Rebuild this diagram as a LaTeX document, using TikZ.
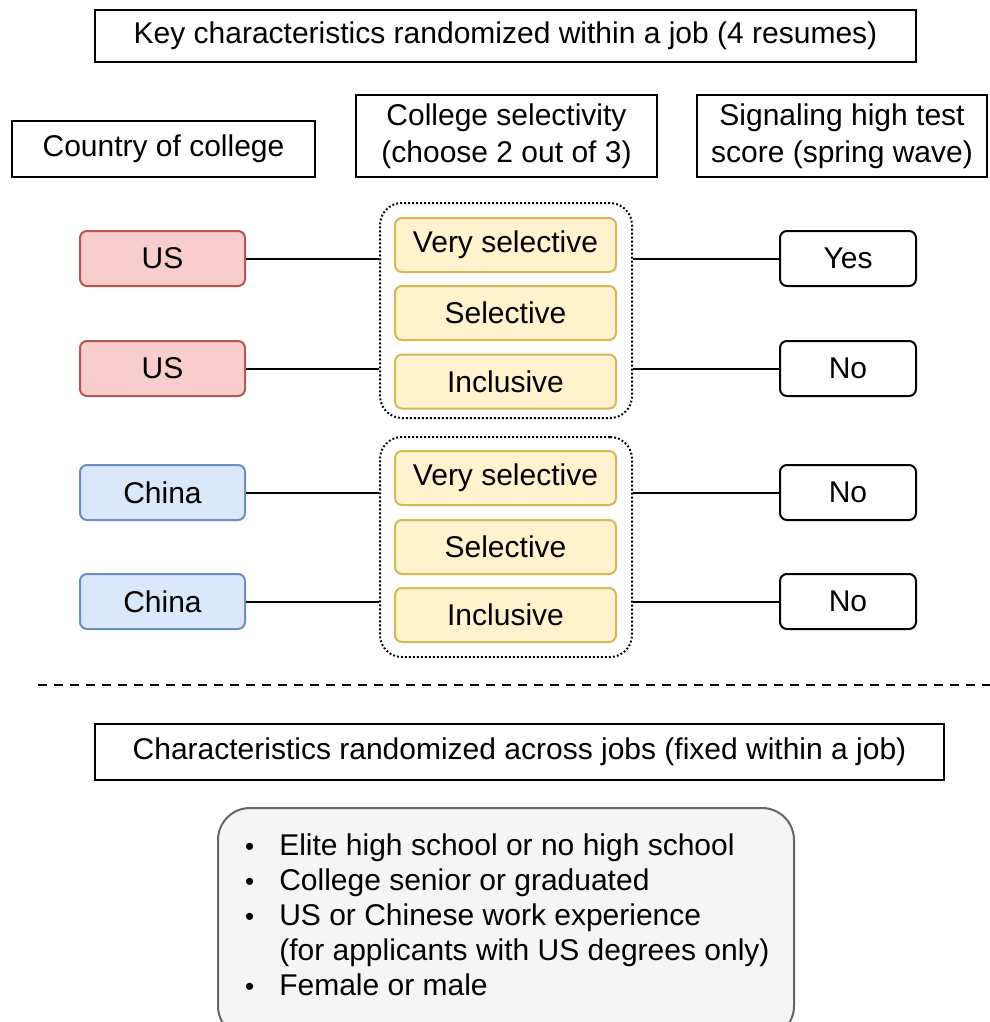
\documentclass[tikz,border=0pt]{standalone}
\usepackage{fontspec}
\setmainfont{Liberation Sans}
\newcommand{\smallbul}{{\fontsize{26}{35}\selectfont\raisebox{0.5pt}{\textbullet}}}
\begin{document}
\begin{tikzpicture}[x=1pt,y=-1pt,
  every node/.style={font=\fontsize{30}{37}\selectfont, inner sep=0pt, align=center},
  plain/.style={draw=black, line width=2pt, fill=white},
  usbox/.style={draw={rgb,255:red,184;green,84;blue,80}, fill={rgb,255:red,248;green,206;blue,204}, line width=2pt, rounded corners=7pt, minimum width=165pt, minimum height=55pt},
  cnbox/.style={draw={rgb,255:red,108;green,142;blue,191}, fill={rgb,255:red,218;green,232;blue,252}, line width=2pt, rounded corners=7pt, minimum width=165pt, minimum height=55pt},
  selbox/.style={draw={rgb,255:red,214;green,182;blue,86}, fill={rgb,255:red,255;green,242;blue,204}, line width=2pt, rounded corners=7pt, minimum width=221pt, minimum height=54pt},
  ansbox/.style={draw=black, line width=2pt, fill=white, rounded corners=7pt, minimum width=136pt, minimum height=55pt},
  grp/.style={draw=black, line width=2pt, dash pattern=on 1.8pt off 2.2pt, rounded corners=22pt, minimum width=252pt},
  link/.style={line width=2pt, draw=black}
]
\useasboundingbox (0,0) rectangle (989,1022);

% headers
\node[plain, minimum width=821pt, minimum height=52pt] (top) at (505.5,36) {Key characteristics randomized within a job (4 resumes)};
\node[plain, minimum width=303pt, minimum height=56pt] (country) at (163.5,149) {Country of college};
\node[plain, minimum width=301pt, minimum height=82pt] (colsel) at (506.5,136) {College selectivity\\(choose 2 out of 3)};
\node[plain, minimum width=290pt, minimum height=82pt] (signal) at (842,136) {Signaling high test\\score (spring wave)};

% groups
\node[grp, minimum height=215pt] (g1) at (506,310.5) {};
\node[grp, minimum height=220pt] (g2) at (506,547) {};

% selectivity boxes
\node[selbox] (vs1) at (505.5,245) {Very selective};
\node[selbox] (s1) at (505.5,313) {Selective};
\node[selbox] (in1) at (505.5,381.5) {Inclusive};
\node[selbox] (vs2) at (505.5,478) {Very selective};
\node[selbox] (s2) at (505.5,547) {Selective};
\node[selbox] (in2) at (505.5,615) {Inclusive};

% country boxes
\node[usbox] (us1) at (162.5,258.5) {US};
\node[usbox] (us2) at (162.5,368.5) {US};
\node[cnbox] (cn1) at (162.5,492.5) {China};
\node[cnbox] (cn2) at (162.5,601.5) {China};

% answers
\node[ansbox] (a1) at (848,258.5) {Yes};
\node[ansbox] (a2) at (848,368.5) {No};
\node[ansbox] (a3) at (848,492.5) {No};
\node[ansbox] (a4) at (848,601.5) {No};

% connectors
\draw[link] (us1.east) -- (us1.east -| g1.west);
\draw[link] (us2.east) -- (us2.east -| g1.west);
\draw[link] (cn1.east) -- (cn1.east -| g2.west);
\draw[link] (cn2.east) -- (cn2.east -| g2.west);
\draw[link] (a1.west -| g1.east) -- (a1.west);
\draw[link] (a2.west -| g1.east) -- (a2.west);
\draw[link] (a3.west -| g2.east) -- (a3.west);
\draw[link] (a4.west -| g2.east) -- (a4.west);

% dashed separator
\coordinate (dl) at (38,685);
\coordinate (dr) at (995,685);
\draw[line width=2pt, dash pattern=on 9pt off 7pt] (dl) -- (dr);

% across jobs
\node[plain, minimum width=849pt, minimum height=56pt] (across) at (519.5,752) {Characteristics randomized across jobs (fixed within a job)};

\node[draw={rgb,255:red,102;green,102;blue,102}, fill={rgb,255:red,245;green,245;blue,245}, line width=2pt, rounded corners=32pt, minimum width=576pt, minimum height=230pt] (list) at (506,923) {};
\node[anchor=west, align=left, font=\fontsize{30}{35}\selectfont] (items) at (245,918.5) {%
\renewcommand{\arraystretch}{1}%
\begin{tabular}{@{}l@{\hspace{25pt}}l@{}}
\smallbul & Elite high school or no high school\\
\smallbul & College senior or graduated\\
\smallbul & US or Chinese work experience\\
 & (for applicants with US degrees only)\\
\smallbul & Female or male
\end{tabular}};
\end{tikzpicture}
\end{document}
